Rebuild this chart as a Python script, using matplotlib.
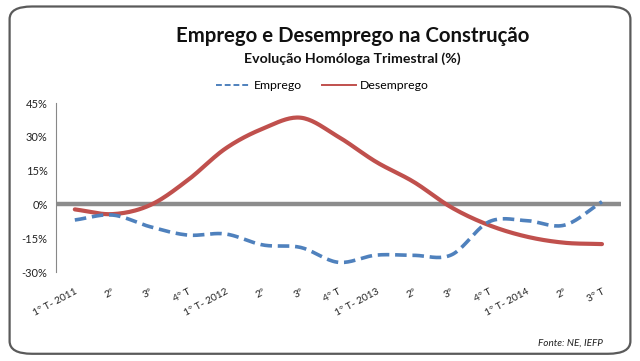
import numpy as np
import matplotlib
matplotlib.use('Agg')
import matplotlib.pyplot as plt
from matplotlib.lines import Line2D
from matplotlib.patches import FancyBboxPatch

# Quarter labels (x axis)
quarters = ['1º T- 2011', '2º', '3º', '4º T',
            '1º T- 2012', '2º', '3º', '4º T',
            '1º T- 2013', '2º', '3º', '4º T',
            '1º T- 2014', '2º', '3º T']

# Year-on-year change (%)
emprego = [-6.9, -4.7, -9.9, -13.6, -13.1, -18.0, -19.1, -25.7,
           -22.5, -22.6, -22.4, -7.7, -7.2, -9.2, 1.2]
desemprego = [-2.2, -4.3, -0.3, 10.8, 24.8, 33.7, 38.5, 30.0,
              18.9, 10.0, -1.3, -9.2, -14.3, -17.0, -17.6]

yticks = [45, 30, 15, 0, -15, -30]

blue = '#4F81BD'
red = '#C0504D'
font = 'Lato'


def smooth(y, n=20):
    # Catmull-Rom curve through the points (like Excel's smoothed line)
    y = np.asarray(y, dtype=float)
    x = np.arange(len(y), dtype=float)
    px = np.concatenate([[2 * x[0] - x[1]], x, [2 * x[-1] - x[-2]]])
    py = np.concatenate([[2 * y[0] - y[1]], y, [2 * y[-1] - y[-2]]])
    xs, ys = [], []
    t = np.linspace(0, 1, n, endpoint=False)
    for i in range(1, len(px) - 2):
        for arr, out in ((px, xs), (py, ys)):
            p0, p1, p2, p3 = arr[i - 1], arr[i], arr[i + 1], arr[i + 2]
            out.extend(0.5 * (2 * p1 + (-p0 + p2) * t
                              + (2 * p0 - 5 * p1 + 4 * p2 - p3) * t ** 2
                              + (-p0 + 3 * p1 - 3 * p2 + p3) * t ** 3))
    xs.append(x[-1])
    ys.append(y[-1])
    return np.array(xs), np.array(ys)


fig = plt.figure(figsize=(6.4, 3.61), dpi=100)
ax = fig.add_axes([0.0875, 0.2465, 0.8825, 0.468])

# rounded frame around the whole chart
frame = FancyBboxPatch((0.015, 0.02), 0.97, 0.962,
                       boxstyle='round,pad=0,rounding_size=0.035',
                       transform=fig.transFigure, fill=False,
                       edgecolor='#5a5a5a', linewidth=1.6, zorder=0)
fig.patches.append(frame)

ax.axhline(0, color='#8c8c8c', linewidth=3.2, zorder=1)

xe, ye = smooth(emprego)
ax.plot(xe, ye, color=blue, linewidth=2.6, dashes=(3.2, 1.6),
        solid_capstyle='butt', zorder=3)
xd, yd = smooth(desemprego)
ax.plot(xd, yd, color=red, linewidth=3.0, solid_capstyle='round', zorder=2)

ax.set_xlim(-0.5, len(quarters) - 0.5)
ax.set_ylim(-30, 45)
ax.set_yticks(yticks)
ax.set_yticklabels([f'{v}%' for v in yticks], fontsize=8,
                   fontfamily=font, color='#222222')
ax.set_xticks(range(len(quarters)))
ax.set_xticklabels(quarters, rotation=28, ha='right',
                   rotation_mode='anchor', fontsize=7.3,
                   fontfamily=font, color='#222222')
ax.tick_params(length=0, pad=6)
ax.tick_params(axis='x', pad=11)

for side in ['top', 'right', 'bottom']:
    ax.spines[side].set_visible(False)
ax.spines['left'].set_color('#888888')
ax.spines['left'].set_linewidth(0.8)

fig.text(0.551, 0.90, 'Emprego e Desemprego na Construção',
         ha='center', va='center', fontsize=14.7, fontweight='bold',
         fontfamily=font, color='#111111')
fig.text(0.551, 0.837, 'Evolução Homóloga Trimestral (%)',
         ha='center', va='center', fontsize=10.2, fontweight='bold',
         fontfamily=font, color='#111111')

handles = [Line2D([], [], color=blue, linewidth=1.4, dashes=(3, 1.5)),
           Line2D([], [], color=red, linewidth=1.4)]
fig.legend(handles, ['Emprego', 'Desemprego'], loc='center',
           bbox_to_anchor=(0.504, 0.762), ncol=2, frameon=False,
           prop={'family': font, 'size': 8.8}, handlelength=2.8,
           handletextpad=0.3, columnspacing=1.6)

fig.text(0.942, 0.05, 'Fonte: NE, IEFP', ha='right', va='center',
         fontsize=7.2, fontstyle='italic', fontfamily=font,
         color='#222222')

plt.savefig('out.png', dpi=100)
